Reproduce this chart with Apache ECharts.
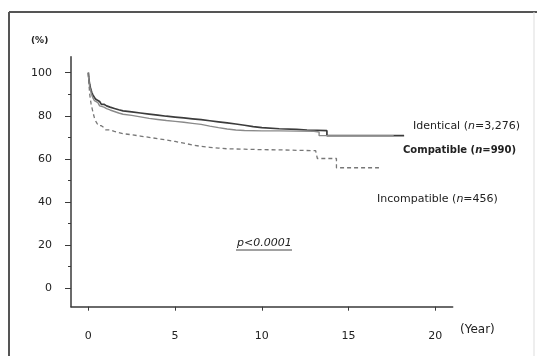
<!DOCTYPE html>
<html>
<head>
<meta charset="utf-8">
<script src="https://cdn.jsdelivr.net/npm/echarts@6/dist/echarts.min.js"></script>
<style>html,body{margin:0;padding:0;background:#fff;}#c{width:537px;height:356px;}</style>
</head>
<body>
<div id="c"></div>
<script>
// Kaplan-Meier survival (%) vs years
const identical = [[0,100],[0.02,98],[0.05,96],[0.08,94.5],[0.12,93],[0.16,91.8],[0.2,90.8],[0.27,89.6],[0.35,88.5],[0.45,87.5],[0.55,86.6],[0.65,85.9],[0.75,85.3],[0.9,84.6],[1.05,84],[1.25,83.4],[1.5,82.8],[1.75,82.3],[2,81.8],[2.5,81.3],[3,80.8],[3.5,80.3],[4,79.8],[4.5,79.4],[5,79],[5.5,78.6],[6,78.2],[6.5,77.7],[7,77.2],[7.5,76.7],[8,76.2],[8.5,75.6],[9,75],[9.5,74.5],[10,74],[11,73.7],[12,73.4],[12.6,73.1],[13.75,70.8],[18.2,70.8]];
const compatible = [[0,100],[0.02,97.5],[0.05,95],[0.08,93.3],[0.12,92],[0.16,90.6],[0.2,89.5],[0.27,88.2],[0.35,87],[0.45,86.1],[0.55,85.3],[0.65,84.6],[0.75,84],[0.9,83.3],[1.05,82.7],[1.25,82],[1.5,81.3],[1.75,80.7],[2,80.2],[2.5,79.5],[3,78.8],[3.5,78.3],[4,77.8],[4.5,77.4],[5,77],[5.5,76.5],[6,76],[6.5,75.2],[7,74.5],[7.5,73.9],[8,73.4],[8.5,73.2],[9,73],[10,73],[11,72.9],[12,72.8],[13,72.5],[13.3,70.8],[17.6,70.8]];
const incompatible = [[0,100],[0.02,96],[0.05,93],[0.08,90],[0.12,87.5],[0.16,85.5],[0.2,84],[0.27,81.5],[0.35,79],[0.42,77.6],[0.5,76.5],[0.6,75.4],[0.75,74.5],[0.9,73.9],[1,73.5],[1.25,72.8],[1.5,72.2],[1.75,71.7],[2,71.2],[2.5,70.6],[3,70],[3.5,69.4],[4,68.8],[4.5,68.1],[5,67.3],[5.5,66.5],[6,65.8],[6.5,65.4],[7,65],[7.5,64.7],[8,64.5],[9,64.3],[10,64.2],[11,64],[12,63.8],[13.1,63.7],[13.2,60.2],[14.3,55.9],[16.75,55.9]];
const xTicks = [0,5,10,15,20];
const yTicks = [0,20,40,60,80,100];
const yMinorTicks = [10,30,50,70,90];
const seriesNames = ['Identical','Compatible','Incompatible'];
const seriesN = ['3,276','990','456'];

const font = 'DejaVu Sans';
const chart = echarts.init(document.getElementById('c'));
const axisCol = '#3a3a3a';
const txt = '#222';
chart.setOption({
  animation:false,
  backgroundColor:'#fff',
  grid:{left:71,right:84.3,top:56.7,bottom:49.3},
  xAxis:{type:'value',min:-1,max:21,
    axisLine:{onZero:false,lineStyle:{color:axisCol,width:1.5}},
    splitLine:{show:false},
    axisTick:{customValues:xTicks,length:4,lineStyle:{color:axisCol,width:1}},
    axisLabel:{customValues:xTicks,margin:24,color:txt,fontFamily:font,fontSize:11}
  },
  yAxis:[{type:'value',min:-8.53,max:107.4,
    axisLine:{show:true,onZero:false,lineStyle:{color:axisCol,width:1.5}},
    splitLine:{show:false},
    axisTick:{show:true,customValues:yTicks,length:6,lineStyle:{color:axisCol,width:1}},
    axisLabel:{customValues:yTicks,margin:19,color:txt,fontFamily:font,fontSize:11}
  },{type:'value',min:-8.53,max:107.4,position:'left',
    axisLine:{show:false,onZero:false},splitLine:{show:false},
    axisTick:{show:true,customValues:yMinorTicks,length:3,lineStyle:{color:axisCol,width:1}},
    axisLabel:{show:false}
  }],
  series:[
    {name:seriesNames[0],type:'line',step:'end',data:identical,symbol:'none',lineStyle:{color:'#3c3c3c',width:1.7}},
    {name:seriesNames[1],type:'line',step:'end',data:compatible,symbol:'none',lineStyle:{color:'#8a8a8a',width:1.4}},
    {name:seriesNames[2],type:'line',step:'end',data:incompatible,symbol:'none',lineStyle:{color:'#777',width:1.3,type:[4,3]}}
  ],
  graphic:[
    {type:'line',shape:{x1:9,y1:12,x2:537,y2:12},style:{stroke:'#555',lineWidth:2}},
    {type:'line',shape:{x1:9,y1:12,x2:9,y2:356},style:{stroke:'#555',lineWidth:2}},
    {type:'line',shape:{x1:534,y1:12,x2:534,y2:356},style:{stroke:'#ddd',lineWidth:1}},
    {type:'text',x:31,y:41,style:{text:'(%)',fill:txt,font:'bold 9px '+font,textVerticalAlign:'middle'}},
    {type:'text',x:460,y:330,style:{text:'(Year)',fill:txt,font:'12px '+font,textVerticalAlign:'middle'}},
    {type:'text',x:413,y:126,style:{text:'{a|'+seriesNames[0]+' (}{i|n}{a|='+seriesN[0]+')}',textVerticalAlign:'middle',
      rich:{a:{fill:txt,fontFamily:font,fontSize:11},i:{fill:txt,fontFamily:font,fontSize:11,fontStyle:'italic'}}}},
    {type:'text',x:403,y:150,style:{text:'{a|'+seriesNames[1]+' (}{i|n}{a|='+seriesN[1]+')}',textVerticalAlign:'middle',
      rich:{a:{fill:txt,fontFamily:font,fontSize:10,fontWeight:'bold'},i:{fill:txt,fontFamily:font,fontSize:10,fontWeight:'bold',fontStyle:'italic'}}}},
    {type:'text',x:377,y:199,style:{text:'{a|'+seriesNames[2]+' (}{i|n}{a|='+seriesN[2]+')}',textVerticalAlign:'middle',
      rich:{a:{fill:txt,fontFamily:font,fontSize:11},i:{fill:txt,fontFamily:font,fontSize:11,fontStyle:'italic'}}}},
    {type:'text',x:237,y:243,style:{text:'p<0.0001',fill:txt,font:'italic 11px '+font,textVerticalAlign:'middle'}},
    {type:'line',shape:{x1:236,y1:250,x2:292,y2:250},style:{stroke:'#444',lineWidth:1}}
  ]
});
</script>
</body>
</html>
